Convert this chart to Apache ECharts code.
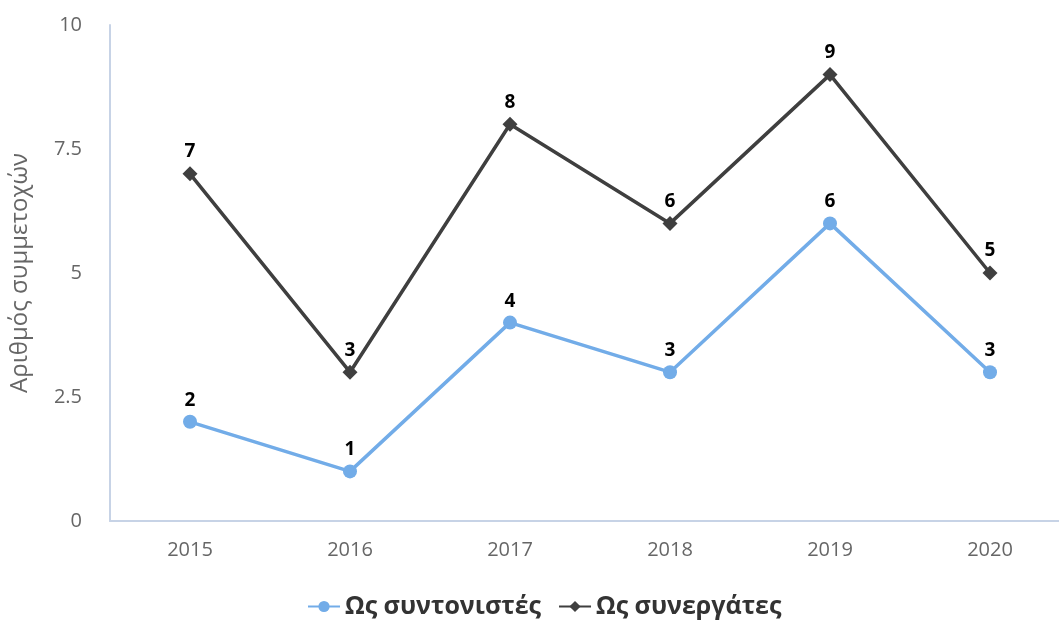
<!DOCTYPE html>
<html>
<head>
<meta charset="utf-8">
<script src="https://cdn.jsdelivr.net/npm/echarts@6/dist/echarts.min.js"></script>
<style>
html, body { margin: 0; padding: 0; background: #fff; overflow: hidden; }
/* plot runs past the right edge in the reference, so the canvas is a bit wider than the window */
#chart { width: 1070px; height: 624px; }
</style>
</head>
<body>
<div id="chart"></div>
<script>
// data
var years = ['2015', '2016', '2017', '2018', '2019', '2020'];
var coordinators = [2, 1, 4, 3, 6, 3];
var partners = [7, 3, 8, 6, 9, 5];
var seriesNames = ['Ως συντονιστές', 'Ως συνεργάτες'];
var yTicks = [0, 2.5, 5, 7.5, 10];

var font = '"Open Sans", "Noto Sans", sans-serif';
var chart = echarts.init(document.getElementById('chart'));

var dataLabel = { show: true, position: 'top', distance: 5, color: '#000', fontWeight: 'bold', fontSize: 19 };

chart.setOption({
    textStyle: { fontFamily: font },
    animation: false,
    grid: { left: 110, right: 0, top: 25, bottom: 103 },
    legend: {
        bottom: 0,
        left: 302,
        itemWidth: 32,
        itemHeight: 14,
        itemGap: 17,
        textStyle: { fontSize: 25, color: '#333', fontWeight: 'bold', fontFamily: font },
        data: seriesNames
    },
    xAxis: {
        type: 'category',
        data: years,
        boundaryGap: true,
        axisLine: { lineStyle: { color: '#c7d3e6', width: 2 } },
        axisTick: { show: false },
        axisLabel: { color: '#666', fontSize: 20, margin: 19 }
    },
    yAxis: {
        type: 'value',
        min: yTicks[0],
        max: yTicks[yTicks.length - 1],
        interval: 2.5,
        name: 'Αριθμός συμμετοχών',
        nameLocation: 'middle',
        nameGap: 78,
        nameTextStyle: { color: '#666', fontSize: 24 },
        axisLine: { show: true, lineStyle: { color: '#c7d3e6', width: 2 } },
        axisTick: { show: false },
        splitLine: { show: false },
        axisLabel: { color: '#666', fontSize: 20, margin: 28 }
    },
    series: [
        {
            name: seriesNames[0],
            type: 'line',
            data: coordinators,
            symbol: 'circle',
            symbolSize: 14,
            itemStyle: { color: '#72ace8' },
            lineStyle: { color: '#72ace8', width: 3.5 },
            label: dataLabel
        },
        {
            name: seriesNames[1],
            type: 'line',
            data: partners,
            symbol: 'diamond',
            symbolSize: 15,
            itemStyle: { color: '#3f3f3f' },
            lineStyle: { color: '#3f3f3f', width: 3.5 },
            label: dataLabel
        }
    ]
});
</script>
</body>
</html>
